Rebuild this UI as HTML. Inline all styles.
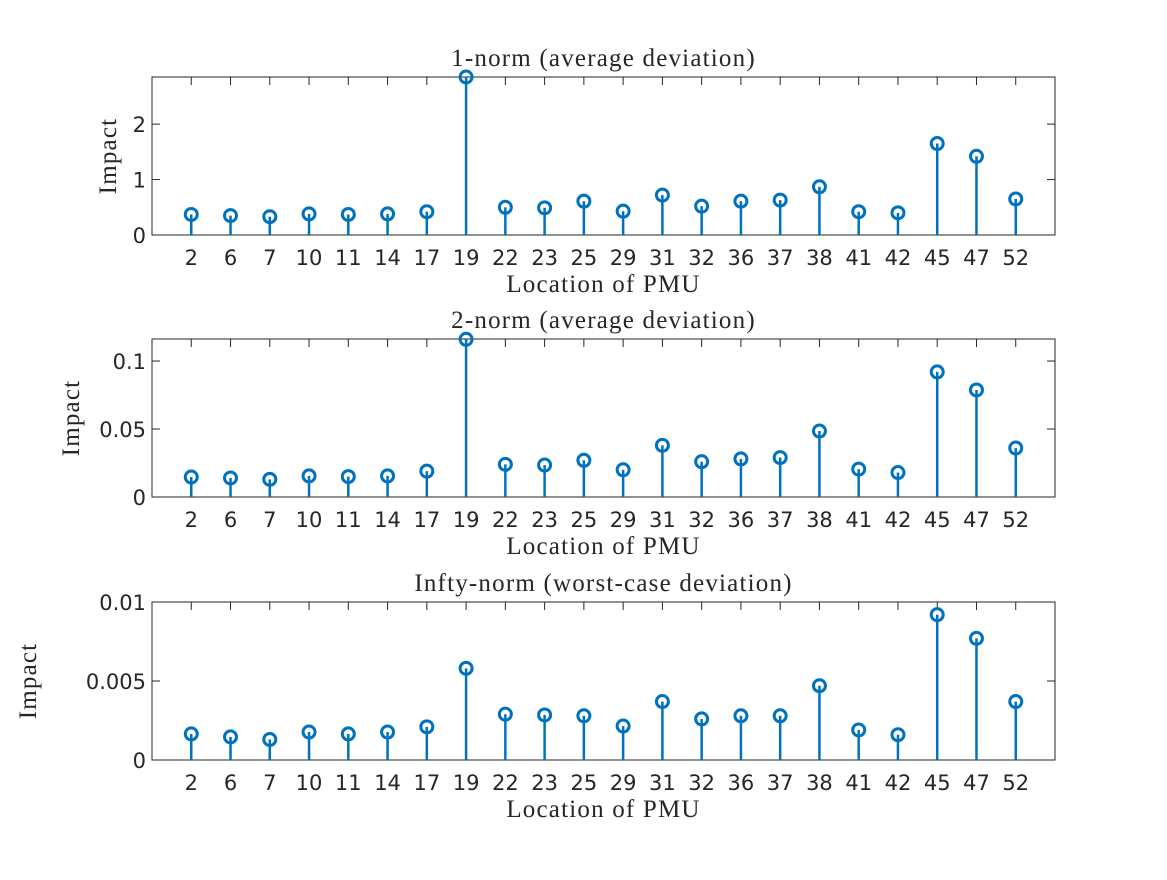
<!DOCTYPE html>
<html><head><meta charset="utf-8"><style>
body{margin:0;background:#fff;width:1167px;height:875px;overflow:hidden}
svg text{fill:#262626}
.t{font-family:"Liberation Serif",serif;font-size:25px;letter-spacing:1.2px}
.k{font-family:"DejaVu Sans","Liberation Sans",sans-serif;font-size:21px}
</style></head><body>
<svg id="chart" width="1167" height="875" xmlns="http://www.w3.org/2000/svg"></svg>
<script>
const categories=["2","6","7","10","11","14","17","19","22","23","25","29","31","32","36","37","38","41","42","45","47","52"];
const norm1Values=[0.37,0.35,0.33,0.38,0.37,0.38,0.42,2.85,0.5,0.49,0.61,0.43,0.72,0.52,0.61,0.63,0.87,0.42,0.40,1.65,1.42,0.65];
const norm2Values=[0.0147,0.014,0.013,0.0155,0.015,0.0155,0.019,0.116,0.024,0.0235,0.027,0.02,0.038,0.026,0.028,0.029,0.0485,0.0205,0.018,0.092,0.0787,0.036];
const normInfValues=[0.00165,0.00146,0.0013,0.00177,0.00165,0.00177,0.0021,0.0058,0.0029,0.00285,0.0028,0.00215,0.0037,0.0026,0.0028,0.0028,0.0047,0.0019,0.0016,0.0092,0.0077,0.0037];
const ticks1=[0,1,2], tickLabels1=["0","1","2"];
const ticks2=[0,0.05,0.1], tickLabels2=["0","0.05","0.1"];
const ticks3=[0,0.005,0.01], tickLabels3=["0","0.005","0.01"];
const svg=document.getElementById('chart');
const NS='http://www.w3.org/2000/svg';
function mk(tag,attrs,parent){const e=document.createElementNS(NS,tag);for(const k in attrs)e.setAttribute(k,attrs[k]);(parent||svg).appendChild(e);return e;}
const L=152,R=1055,C='#0072BD';
const panels=[
 {top:77,bot:235,ymax:2.85,vals:norm1Values,ticks:ticks1,labels:tickLabels1,title:"1-norm (average deviation)",name:"one-norm",ylx:110},
 {top:339,bot:497,ymax:0.1162,vals:norm2Values,ticks:ticks2,labels:tickLabels2,title:"2-norm (average deviation)",name:"two-norm",ylx:73},
 {top:602,bot:760,ymax:0.01,vals:normInfValues,ticks:ticks3,labels:tickLabels3,title:"Infty-norm (worst-case deviation)",name:"infty-norm",ylx:30}
];
panels.forEach(p=>{
 const g=mk('g',{});
 
 
 const x=i=>L+(i+1)*(R-L)/23;
 const y=v=>p.bot-v/p.ymax*(p.bot-p.top);
 const box=mk('rect',{x:L,y:p.top,width:R-L,height:p.bot-p.top,fill:'none',stroke:'#262626','stroke-width':1},g);
 
 
 categories.forEach((c,i)=>{
  mk('line',{x1:x(i),x2:x(i),y1:p.top,y2:p.top+8,stroke:'#262626'},g);
  mk('line',{x1:x(i),x2:x(i),y1:p.bot,y2:p.bot-8,stroke:'#262626'},g);
  const t=mk('text',{x:x(i),y:p.bot+30,'text-anchor':'middle',class:'k'},g);
  t.textContent=c;
  
  
 });
 p.ticks.forEach((v,j)=>{
  mk('line',{x1:L,x2:L+8,y1:y(v),y2:y(v),stroke:'#262626'},g);
  mk('line',{x1:R,x2:R-8,y1:y(v),y2:y(v),stroke:'#262626'},g);
  const t=mk('text',{x:L-6,y:y(v)+8,'text-anchor':'end',class:'k'},g);
  t.textContent=p.labels[j];
  
  
 });
 p.vals.forEach((v,i)=>{
  const s=mk('line',{x1:x(i),x2:x(i),y1:p.bot,y2:y(v),stroke:C,'stroke-width':2.5},g);
  
  
  const m=mk('circle',{cx:x(i),cy:y(v),r:6,fill:'none',stroke:C,'stroke-width':3},g);
  
  
 });
 const tt=mk('text',{x:(L+R)/2,y:p.top-11,'text-anchor':'middle',class:'t'},g);
 tt.textContent=p.title;
 
 
 const xl=mk('text',{x:(L+R)/2,y:p.bot+57,'text-anchor':'middle',class:'t'},g);
 xl.textContent="Location of PMU";
 
 
 const cy=(p.top+p.bot)/2;
 const yl=mk('text',{x:p.ylx+6,y:cy,'text-anchor':'middle',class:'t',transform:`rotate(-90 ${p.ylx+6} ${cy})`},g);
 yl.textContent="Impact";
 
 
});
</script>
</body></html>
